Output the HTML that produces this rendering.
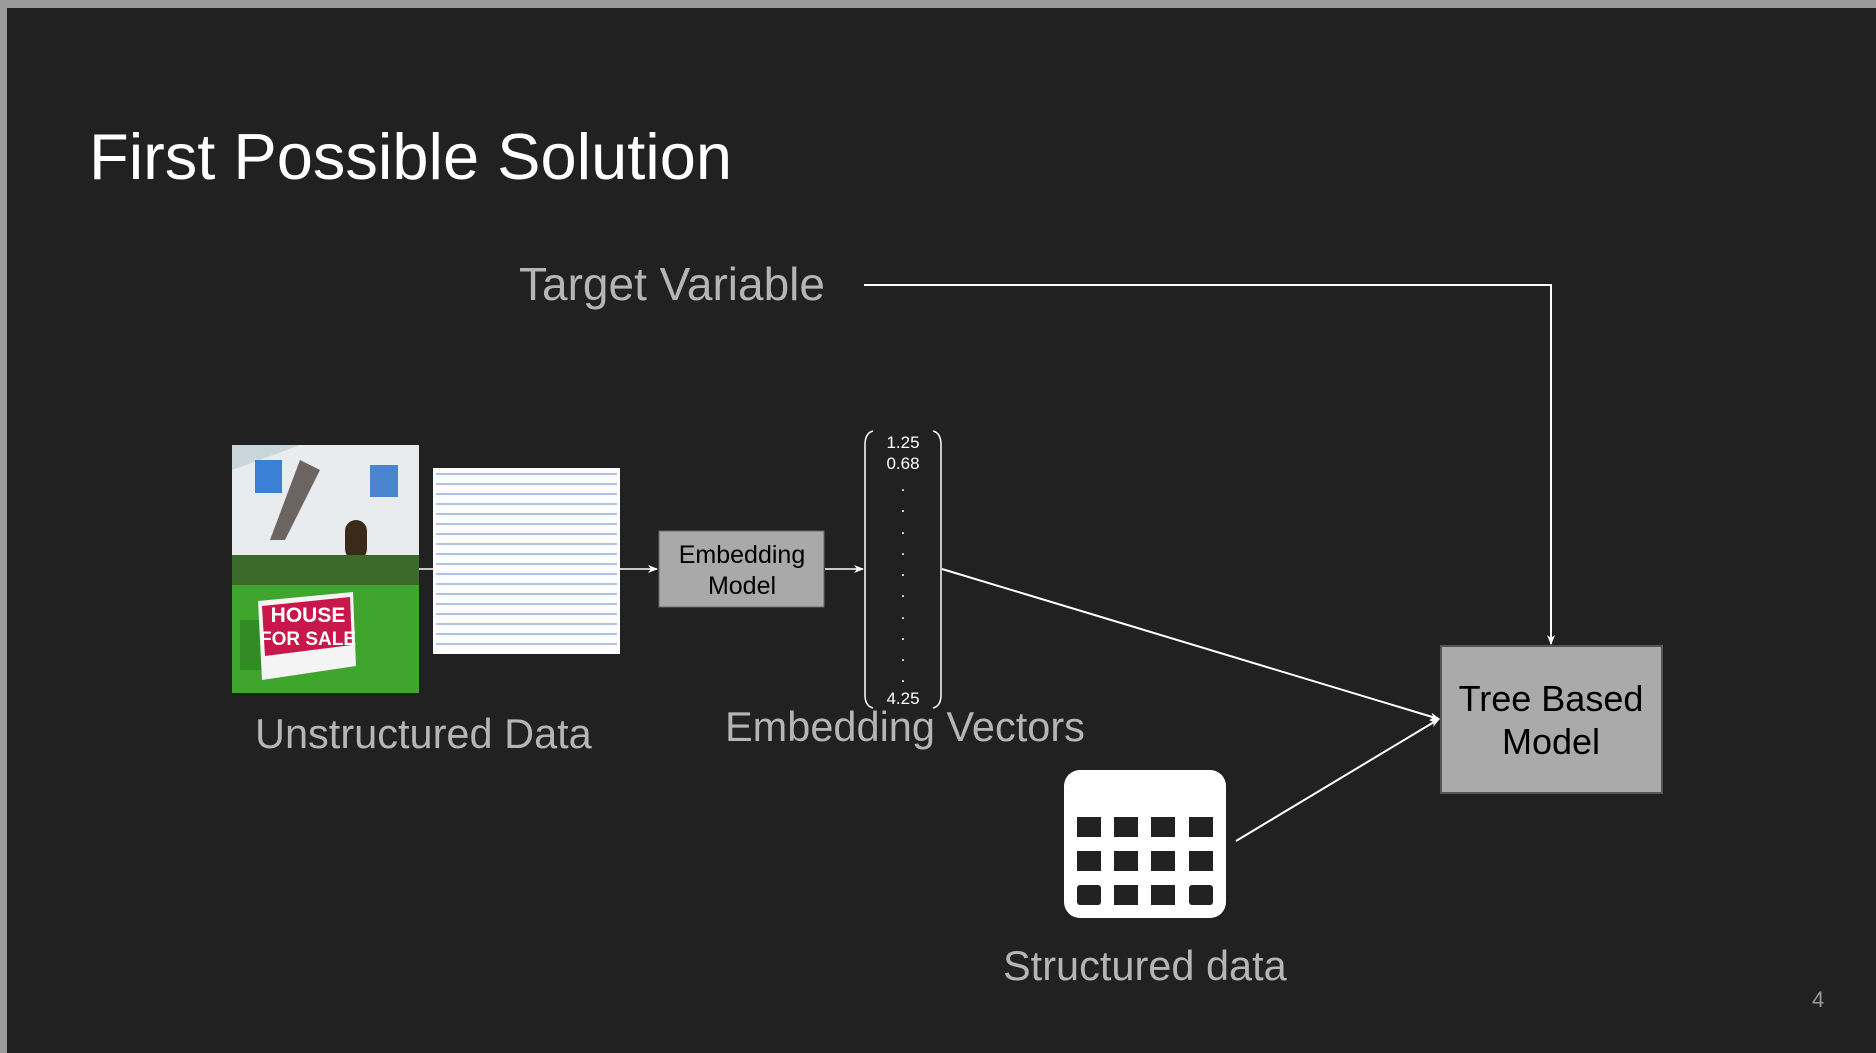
<!DOCTYPE html>
<html><head><meta charset="utf-8"><style>
html,body{margin:0;padding:0;}
body{width:1876px;height:1053px;background:#9b9b9b;position:relative;overflow:hidden;font-family:"Liberation Sans",Arial,sans-serif;}
#s{position:absolute;left:7px;top:8px;width:1869px;height:1045px;background:#212121;}
.t{position:absolute;white-space:nowrap;}
</style></head><body>
<div id="s"></div>
<svg width="1876" height="1053" style="position:absolute;left:0;top:0" xmlns="http://www.w3.org/2000/svg">
<defs>
<marker id="a" markerWidth="10" markerHeight="10" refX="9" refY="5" orient="auto" markerUnits="userSpaceOnUse"><path d="M0,1 L10,5 L0,9 L3,5 z" fill="#fff"/></marker>
<clipPath id="hc"><rect x="232" y="445" width="187" height="248"/></clipPath>
</defs>
<g clip-path="url(#hc)">
<rect x="232" y="445" width="187" height="248" fill="#dfe6ea"/>
<rect x="232" y="445" width="187" height="30" fill="#c9d6da"/>
<polygon points="232,470 300,445 419,445 419,560 232,560" fill="#e8ecee"/>
<polygon points="300,460 270,540 285,540 320,470" fill="#6b6460"/>
<rect x="255" y="460" width="27" height="33" fill="#3b7fd6"/>
<rect x="370" y="465" width="28" height="32" fill="#4a86d0"/>
<rect x="345" y="520" width="22" height="40" rx="11" fill="#3a2a1a"/>
<rect x="232" y="555" width="187" height="30" fill="#3c6a2a"/>
<rect x="232" y="585" width="187" height="108" fill="#3fa52c"/>
<rect x="240" y="620" width="40" height="50" fill="#2a7a20" opacity="0.6"/>
<polygon points="258,601 353,592 356,666 262,680" fill="#f4f4f4"/>
<polygon points="262,606 350,597 352,645 265,656" fill="#c8174a"/>
<text x="308" y="622" font-size="21" font-weight="bold" fill="#fff" text-anchor="middle" font-family="Liberation Sans">HOUSE</text>
<text x="308" y="645" font-size="19" font-weight="bold" fill="#fff" text-anchor="middle" font-family="Liberation Sans">FOR SALE</text>
</g>
<rect x="433" y="468" width="187" height="186" fill="#fdfdff"/>
<g stroke="#6f8fd0" stroke-width="1.2" opacity="0.85">
<line x1="436" y1="474" x2="617" y2="474"/><line x1="436" y1="484" x2="617" y2="484"/><line x1="436" y1="494" x2="617" y2="494"/><line x1="436" y1="504" x2="617" y2="504"/><line x1="436" y1="514" x2="617" y2="514"/><line x1="436" y1="524" x2="617" y2="524"/><line x1="436" y1="534" x2="617" y2="534"/><line x1="436" y1="544" x2="617" y2="544"/><line x1="436" y1="554" x2="617" y2="554"/><line x1="436" y1="564" x2="617" y2="564"/><line x1="436" y1="574" x2="617" y2="574"/><line x1="436" y1="584" x2="617" y2="584"/><line x1="436" y1="594" x2="617" y2="594"/><line x1="436" y1="604" x2="617" y2="604"/><line x1="436" y1="614" x2="617" y2="614"/><line x1="436" y1="624" x2="617" y2="624"/><line x1="436" y1="634" x2="617" y2="634"/><line x1="436" y1="644" x2="617" y2="644"/>
</g>
<line x1="419" y1="569" x2="657" y2="569" stroke="#fff" stroke-width="1.5" marker-end="url(#a)"/>
<line x1="825" y1="569" x2="863" y2="569" stroke="#fff" stroke-width="1.5" marker-end="url(#a)"/>
<polyline points="864,285 1551,285 1551,644" fill="none" stroke="#fff" stroke-width="2" marker-end="url(#a)"/>
<line x1="942" y1="569" x2="1439" y2="719" stroke="#fff" stroke-width="2" marker-end="url(#a)"/>
<line x1="1236" y1="841" x2="1439" y2="719" stroke="#fff" stroke-width="2" marker-end="url(#a)"/>
<rect x="659" y="531" width="165" height="76" fill="#a9a9a9" stroke="#666" stroke-width="1"/>
<text x="742" y="563" font-size="25" fill="#000" text-anchor="middle" font-family="Liberation Sans">Embedding</text>
<text x="742" y="594" font-size="25" fill="#000" text-anchor="middle" font-family="Liberation Sans">Model</text>
<path d="M873,431 Q865,433 865,445 L865,695 Q865,706 873,708" fill="none" stroke="#fff" stroke-width="1.5"/>
<path d="M933,431 Q941,433 941,445 L941,695 Q941,706 933,708" fill="none" stroke="#fff" stroke-width="1.5"/>
<g font-size="17" fill="#fff" text-anchor="middle" font-family="Liberation Sans">
<text x="903" y="448">1.25</text><text x="903" y="469">0.68</text>
<text x="903" y="491">.</text><text x="903" y="512">.</text><text x="903" y="534">.</text><text x="903" y="555">.</text><text x="903" y="576">.</text><text x="903" y="597">.</text><text x="903" y="619">.</text><text x="903" y="640">.</text><text x="903" y="661">.</text><text x="903" y="682">.</text>
<text x="903" y="704">4.25</text>
</g>
<rect x="1441" y="646" width="221" height="147" fill="#aaaaaa" stroke="#555" stroke-width="2"/>
<text x="1551" y="711" font-size="36" fill="#000" text-anchor="middle" font-family="Liberation Sans">Tree Based</text>
<text x="1551" y="754" font-size="36" fill="#000" text-anchor="middle" font-family="Liberation Sans">Model</text>
<rect x="1064" y="770" width="162" height="148" rx="16" fill="#fff"/>
<g fill="#222">
<rect x="1077" y="817" width="24" height="20"/><rect x="1114" y="817" width="24" height="20"/><rect x="1151" y="817" width="24" height="20"/><rect x="1189" y="817" width="24" height="20"/>
<rect x="1077" y="851" width="24" height="20"/><rect x="1114" y="851" width="24" height="20"/><rect x="1151" y="851" width="24" height="20"/><rect x="1189" y="851" width="24" height="20"/>
<rect x="1077" y="885" width="24" height="20" rx="3"/><rect x="1114" y="885" width="24" height="20"/><rect x="1151" y="885" width="24" height="20"/><rect x="1189" y="885" width="24" height="20" rx="3"/>
</g>
</svg>
<div class="t" style="left:89px;top:119px;font-size:65px;color:#fff;">First Possible Solution</div>
<div class="t" style="left:519px;top:257px;font-size:46px;color:#b5b5b5;">Target Variable</div>
<div class="t" style="left:255px;top:710px;font-size:41.5px;color:#b5b5b5;">Unstructured Data</div>
<div class="t" style="left:725px;top:703px;font-size:41.5px;color:#b5b5b5;">Embedding Vectors</div>
<div class="t" style="left:1003px;top:942px;font-size:41.5px;color:#b5b5b5;">Structured data</div>
<div class="t" style="left:1812px;top:987px;font-size:22px;color:#9a9a9a;">4</div>
</body></html>
